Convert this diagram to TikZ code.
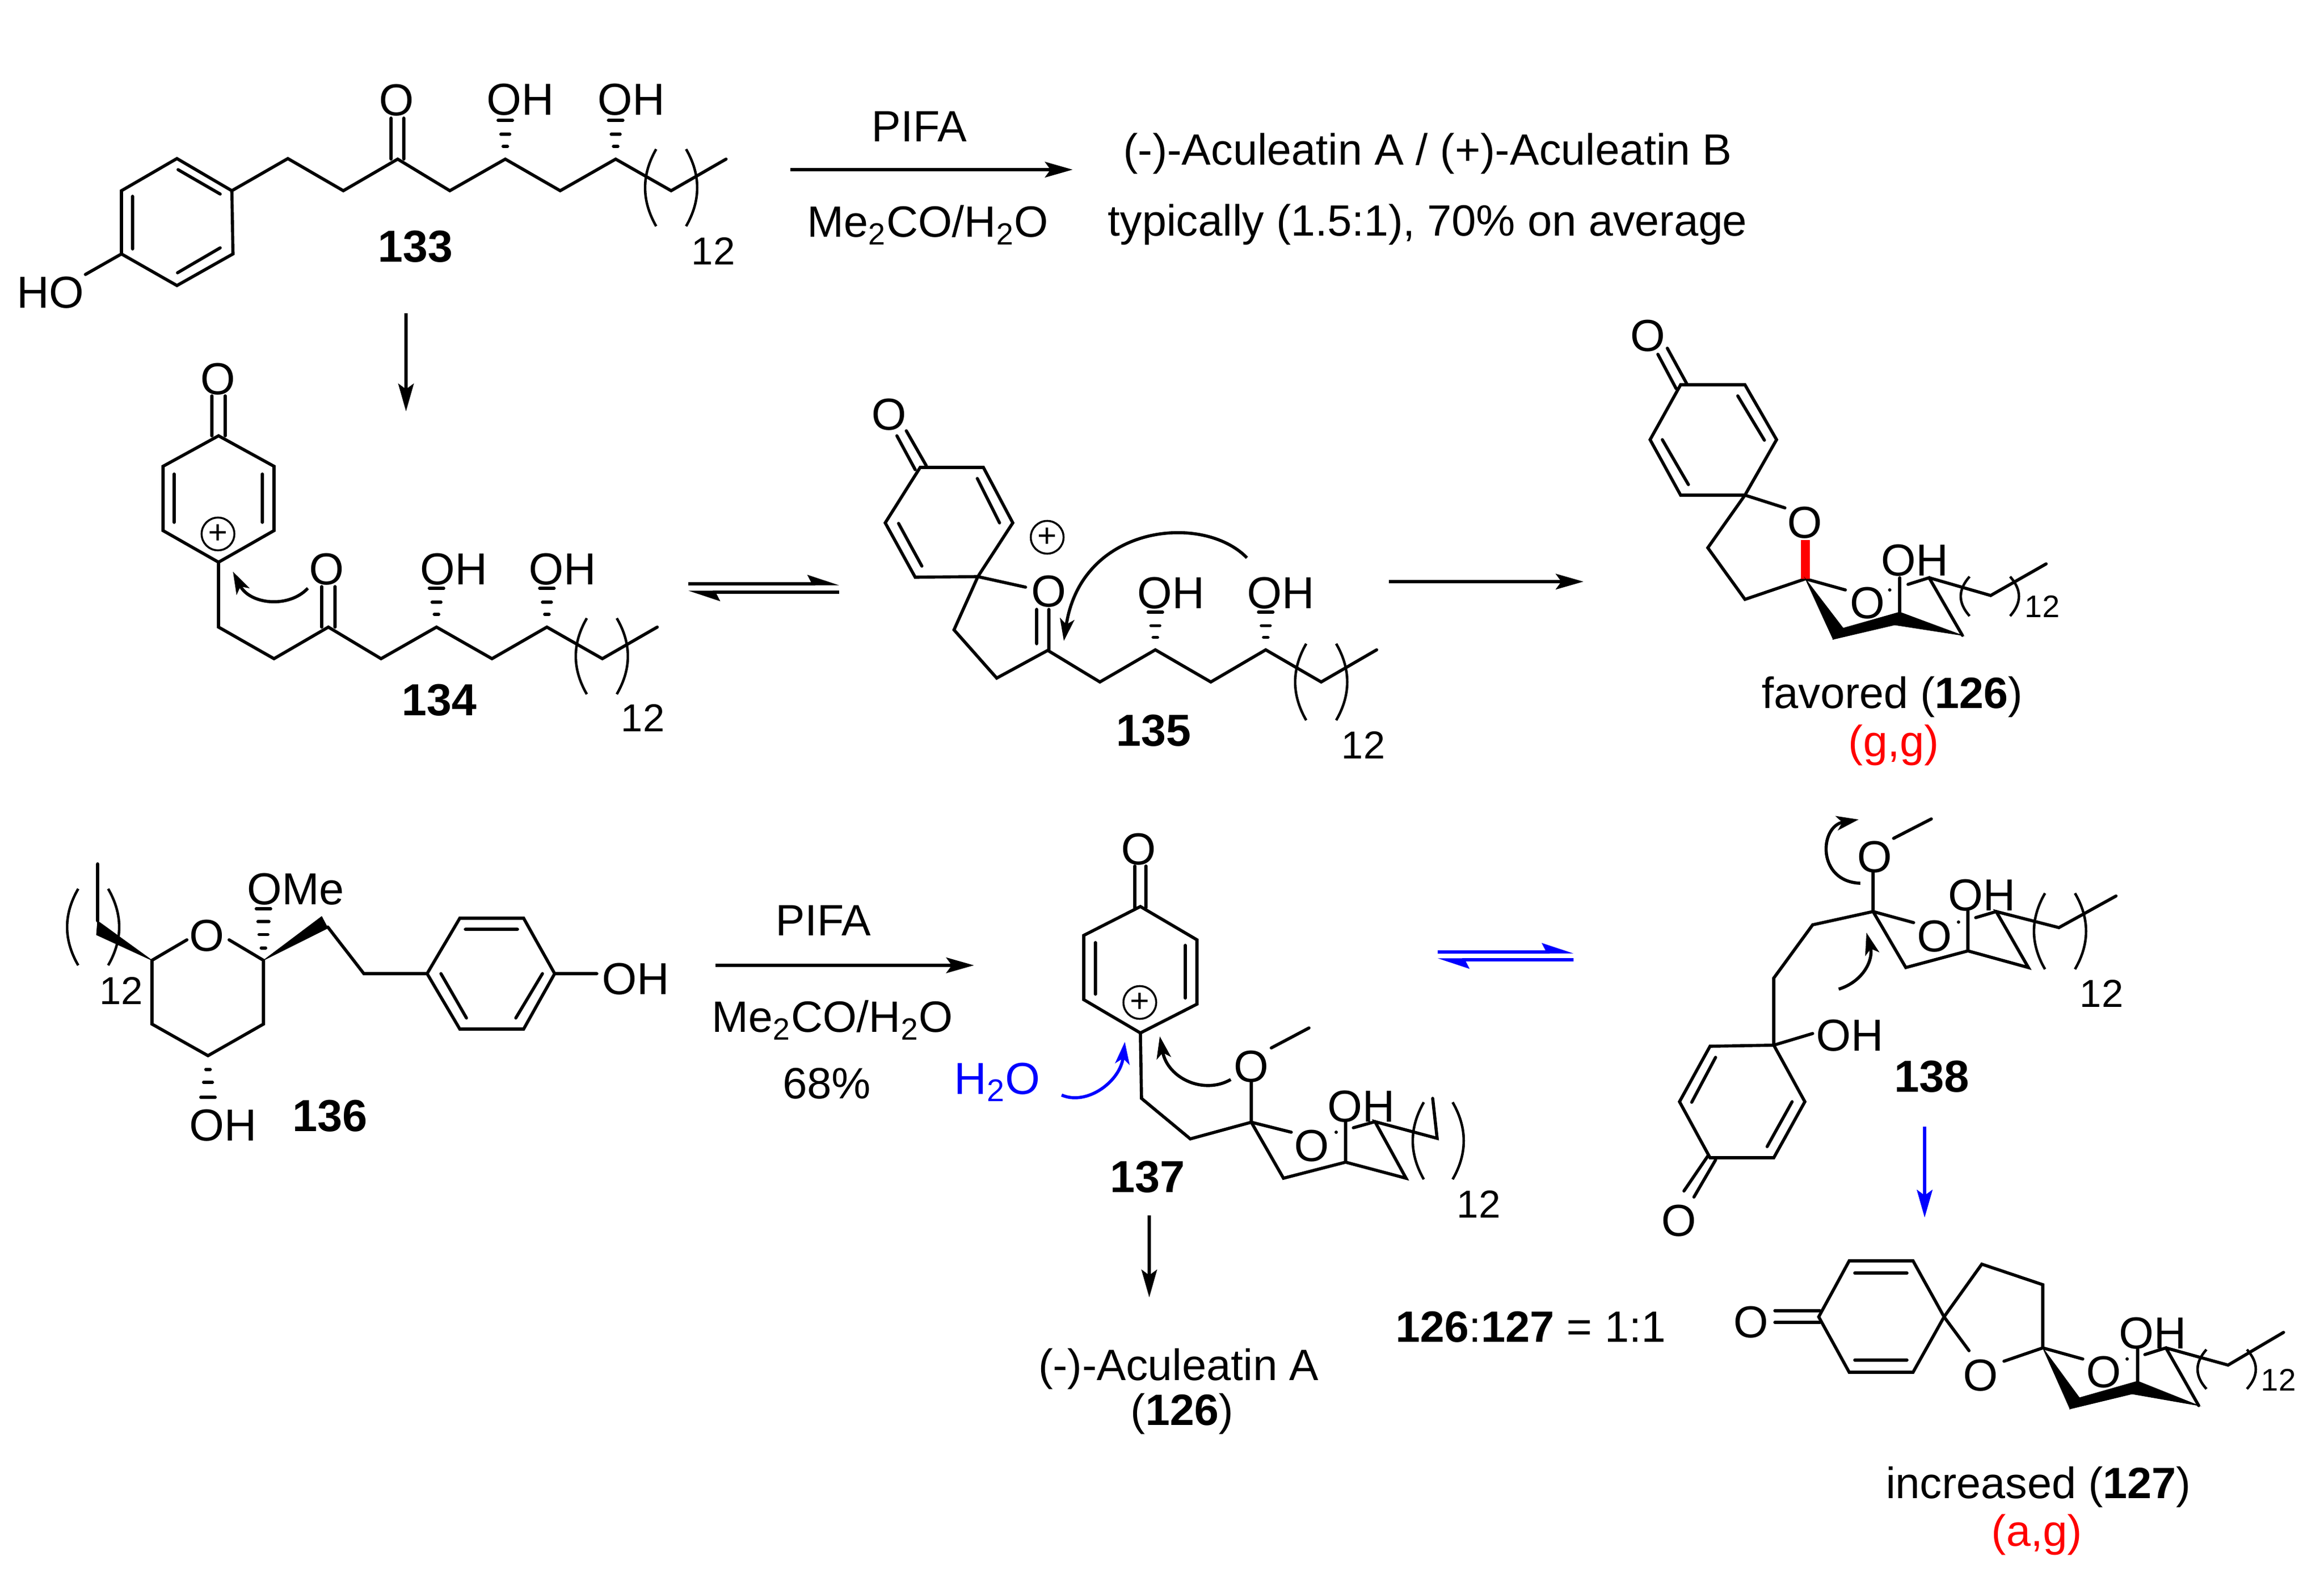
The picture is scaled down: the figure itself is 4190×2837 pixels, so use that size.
\documentclass[tikz,border=0pt]{standalone}
\usepackage{fontspec}
\setmainfont{Liberation Sans}
\usetikzlibrary{arrows.meta,calc}

\newcommand{\hashbond}[3]{\foreach \f/\w in #3 {\draw[bond] ($(#1)!\f!(#2)$) ++(-\w,0) -- ++(2*\w,0);}}
\newcommand{\parens}[5]{%
  \draw[paren] (#1,#3) .. controls ({#1-#5*1.33},{#3+(#4-#3)/3}) and ({#1-#5*1.33},{#3+2*(#4-#3)/3}) .. (#1,#4);
  \draw[paren] (#2,#3) .. controls ({#2+#5*1.33},{#3+(#4-#3)/3}) and ({#2+#5*1.33},{#3+2*(#4-#3)/3}) .. (#2,#4);}
\def\hashthree{.33/4,.64/8,1/13}
\def\hashfour{.24/4,.5/8,.75/10,1/13}

\begin{document}
\begin{tikzpicture}[x=0.01cm,y=-0.01cm,
    bond/.style={line width=1.6pt,line cap=round},
    paren/.style={line width=1.3pt},
    wedgebond/.style={fill=black,draw=black,line width=.3pt},
    atom/.style={inner sep=0pt,font=\fontsize{23}{27}\selectfont},
    count/.style={inner sep=0pt,font=\fontsize{20}{24}\selectfont},
    smallcount/.style={inner sep=0pt,font=\fontsize{16}{20}\selectfont},
    cmpd/.style={inner sep=0pt,font=\fontsize{23}{27}\selectfont\bfseries},
    plain/.style={inner sep=0pt,align=center,font=\fontsize{22.5}{27}\selectfont},
    charge/.style={circle,draw,line width=1pt,inner sep=0pt,minimum size=16.8pt,font=\fontsize{17}{17}\selectfont},
    rxn/.style={line width=1.6pt,-{Stealth[length=5mm,width=2.8mm,inset=1mm]}},
    curly/.style={line width=1.6pt,-{Stealth[length=4mm,width=2.6mm,inset=1mm]}},
    upharp/.style={line width=1.5pt,-{Stealth[harpoon,length=4.9mm,width=3.2mm,inset=.8mm]}}]
  \useasboundingbox (0,0) rectangle (4190,2837);

  % 133
  \foreach \n/\x/\y in {a1/319/286,a2/418/344,a3/420/458,a4/319/515,a5/219/458,a6/219/344,
      a7/519/286,a8/619/344,a9/717/287,a10/811/344,a11/911/287,a12/1010/344,a13/1110/287,a14/1210/344,a15/1309/287,
      a16/154/495,a17/705/213,a18/705/287,a19/728/213,a20/728/287,a21/911/217,a22/1110/217,
      a23/321/306,a24/397/350,a25/239/354,a26/239/449,a27/320/492,a28/397/447}
    \coordinate (\n) at (\x,\y);
  \draw[bond] (a1) -- (a2) -- (a3) -- (a4) -- (a5) -- (a6) -- cycle;
  \draw[bond] (a2) -- (a7) -- (a8) -- (a9) -- (a10) -- (a11) -- (a12) -- (a13) -- (a14) -- (a15);
  \draw[bond] (a5) -- (a16) (a17) -- (a18) (a19) -- (a20);
  \draw[bond] (a23) -- (a24) (a25) -- (a26) (a27) -- (a28);
  \hashbond{a11}{a21}{\hashthree}
  \hashbond{a13}{a22}{\hashthree}
  \parens{1183}{1237}{269}{408}{20}
  \node[atom] (a-ho) at (91,528) {HO};
  \node[atom] (a-o) at (715,181) {O};
  \node[atom] (a-oh1) at (938,180) {OH};
  \node[atom] (a-oh2) at (1138,180) {OH};
  \node[count] (a-n) at (1286,453) {12};
  \node[cmpd] (a-lab) at (749,445) {133};

  % top reaction
  \coordinate (r1s) at (1425,306);
  \coordinate (r1e) at (1934,306);
  \draw[rxn] (r1s) -- (r1e);
  \node[plain] (r1a) at (1657,228) {PIFA};
  \node[plain] (r1b) at (1673,406) {Me\textsubscript{2}CO/H\textsubscript{2}O};
  \node[plain] (r1c) at (2574,277) {(-)-Aculeatin A / (+)-Aculeatin B};
  \node[plain] (r1d) at (2574,405) {typically (1.5:1), 70\% on average};
  \coordinate (r2s) at (732,565);
  \coordinate (r2e) at (732,742);
  \draw[rxn] (r2s) -- (r2e);

  % 134
  \foreach \n/\x/\y in {b1/394/786,b2/494/841,b3/494/957,b4/394/1014,b5/294/957,b6/294/841,
      b7/394/1131,b8/494/1188,b9/592/1131,b10/687/1188,b11/787/1131,b12/887/1188,b13/986/1131,b14/1086/1188,b15/1185/1131,
      b16/382/714,b17/382/786,b18/406/714,b19/406/786,b20/314/855,b21/314/942,b22/473/855,b23/473/942,
      b24/580/1058,b25/580/1131,b26/604/1058,b27/604/1131,b28/787/1061,b29/986/1061,b30/555/1061,b31/420/1031}
    \coordinate (\n) at (\x,\y);
  \draw[bond] (b1) -- (b2) -- (b3) -- (b4) -- (b5) -- (b6) -- cycle;
  \draw[bond] (b4) -- (b7) -- (b8) -- (b9) -- (b10) -- (b11) -- (b12) -- (b13) -- (b14) -- (b15);
  \draw[bond] (b16) -- (b17) (b18) -- (b19) (b20) -- (b21) (b22) -- (b23) (b24) -- (b25) (b26) -- (b27);
  \hashbond{b11}{b28}{\hashthree}
  \hashbond{b13}{b29}{\hashthree}
  \parens{1058}{1112}{1115}{1252}{20}
  \draw[curly] (b30) .. controls (520,1098) and (450,1090) .. (b31);
  \node[charge] (b-p) at (393,963) {+};
  \node[atom] (b-o1) at (393,684) {O};
  \node[atom] (b-o2) at (589,1027) {O};
  \node[atom] (b-oh1) at (818,1027) {OH};
  \node[atom] (b-oh2) at (1014,1027) {OH};
  \node[count] (b-n) at (1159,1295) {12};
  \node[cmpd] (b-lab) at (792,1263) {134};

  % 134 to 135
  \coordinate (r3a) at (1241,1053);
  \coordinate (r3b) at (1513,1053);
  \coordinate (r3c) at (1513,1068);
  \coordinate (r3d) at (1241,1068);
  \draw[upharp] (r3a) -- (r3b);
  \draw[upharp] (r3c) -- (r3d);

  % 135
  \foreach \n/\x/\y in {c1/1659/843,c2/1773/843,c3/1826/943,c4/1763/1040,c5/1650/1041,c6/1596/943,
      c7/1720/1136,c8/1797/1223,c9/1889/1173,c10/1983/1230,c11/2083/1172,c12/2183/1230,c13/2282/1172,c14/2382/1230,c15/2482/1172,
      c16/1617/786,c17/1650/847,c18/1634/777,c19/1670/840,c20/1762/863,c21/1802/943,c22/1620/944,c23/1662/1021,c24/1849/1059,
      c25/1869/1099,c26/1869/1161,c27/1891/1099,c28/1891/1173,c29/2083/1104,c30/2282/1104,c31/2248/1006,c32/1918/1156}
    \coordinate (\n) at (\x,\y);
  \draw[bond] (c1) -- (c2) -- (c3) -- (c4) -- (c5) -- (c6) -- cycle;
  \draw[bond] (c4) -- (c7) -- (c8) -- (c9) -- (c10) -- (c11) -- (c12) -- (c13) -- (c14) -- (c15);
  \draw[bond] (c16) -- (c17) (c18) -- (c19) (c20) -- (c21) (c22) -- (c23) (c4) -- (c24) (c25) -- (c26) (c27) -- (c28);
  \hashbond{c11}{c29}{\hashthree}
  \hashbond{c13}{c30}{\hashthree}
  \parens{2355}{2409}{1161}{1299}{20}
  \draw[curly] (c31) .. controls (2170,925) and (1950,945) .. (c32);
  \node[charge] (c-p) at (1888,969) {+};
  \node[atom] (c-o1) at (1603,748) {O};
  \node[atom] (c-o2) at (1891,1067) {O};
  \node[atom] (c-oh1) at (2111,1070) {OH};
  \node[atom] (c-oh2) at (2309,1070) {OH};
  \node[count] (c-n) at (2458,1344) {12};
  \node[cmpd] (c-lab) at (2080,1318) {135};

  % 135 to 126
  \coordinate (r4s) at (2504,1049);
  \coordinate (r4e) at (2855,1049);
  \draw[rxn] (r4s) -- (r4e);

  % 126
  \foreach \n/\x/\y in {d1/3030/694,d2/3146/694,d3/3203/793,d4/3146/893,d5/3030/893,d6/2975/793,
      d7/3079/988,d8/3146/1081,d9/3255/1044,d10/3218/916,d11/2989/639,d12/3022/701,d13/3006/628,d14/3041/692,
      d15/3133/714,d16/3181/794,d17/2997/793,d18/3044/874,d19/3255/974,d20/3327/1064,d21/3425/1042,d22/3425/1104,
      d23/3440/1054,d24/3478/1042,d25/3538/1146,d26/3589/1074,d27/3689/1017}
    \coordinate (\n) at (\x,\y);
  \draw[bond] (d1) -- (d2) -- (d3) -- (d4) -- (d5) -- (d6) -- cycle;
  \draw[bond] (d4) -- (d7) -- (d8) -- (d9);
  \draw[bond] (d4) -- (d10) (d11) -- (d12) (d13) -- (d14) (d15) -- (d16) (d17) -- (d18) (d9) -- (d20) (d21) -- (d22);
  \draw[bond] (d23) -- (d24) -- (d25) (d24) -- (d26) -- (d27);
  \draw[red,line width=4.5pt] (d19) -- (d9);
  \fill[wedgebond] (d9) -- (3305,1153) -- (3323,1133) -- cycle;
  \fill[wedgebond] (3305,1153) -- (3323,1133) -- (d22) -- (3416,1127) -- cycle;
  \fill[wedgebond] (d22) -- (d25) -- (3416,1127) -- cycle;
  \fill (3407,1064) circle (3);
  \parens{3551}{3624}{1040}{1111}{16}
  \node[atom] (d-o1) at (2971,606) {O};
  \node[atom] (d-o2) at (3254,943) {O};
  \node[atom] (d-o3) at (3367,1088) {O};
  \node[atom] (d-oh) at (3452,1011) {OH};
  \node[smallcount] (d-n) at (3682,1094) {12};
  \node[plain] (d-lab) at (3412,1257) {favored (\textbf{126})};
  \node[plain,text=red] (d-conf) at (3414,1344) {(g,g)};

  % 136
  \foreach \n/\x/\y in {e1/274/1732,e2/475/1732,e3/475/1847,e4/375/1904,e5/274/1847,e6/337/1695,e7/413/1695,
      e8/475/1639,e9/580/1653,e10/591/1674,e11/591/1672,e12/656/1756,e13/770/1756,e14/829/1656,e15/944/1656,
      e16/1000/1756,e17/944/1856,e18/829/1856,e19/839/1676,e20/933/1676,e21/795/1756,e22/841/1836,e23/978/1756,
      e24/930/1836,e25/1076/1756,e26/375/1979,e27/176/1661,e28/174/1686,e29/176/1558}
    \coordinate (\n) at (\x,\y);
  \draw[bond] (e7) -- (e2) -- (e3) -- (e4) -- (e5) -- (e1) -- (e6);
  \draw[bond] (e11) -- (e12) -- (e13);
  \draw[bond] (e13) -- (e14) -- (e15) -- (e16) -- (e17) -- (e18) -- cycle;
  \draw[bond] (e19) -- (e20) (e21) -- (e22) (e23) -- (e24) (e16) -- (e25) (e27) -- (e29);
  \fill[wedgebond] (e2) -- (e9) -- (e10) -- cycle;
  \fill[wedgebond] (e1) -- (e27) -- (e28) -- cycle;
  \hashbond{e2}{e8}{\hashfour}
  \hashbond{e4}{e26}{\hashthree}
  \parens{141}{195}{1603}{1741}{20}
  \node[atom] (e-o) at (373,1688) {O};
  \node[atom] (e-ome) at (533,1604) {OMe};
  \node[atom] (e-oh1) at (1146,1766) {OH};
  \node[atom] (e-oh2) at (402,2030) {OH};
  \node[count] (e-n) at (219,1787) {12};
  \node[cmpd] (e-lab) at (595,2013) {136};

  % 136 to 137
  \coordinate (r5s) at (1290,1741);
  \coordinate (r5e) at (1756,1741);
  \draw[rxn] (r5s) -- (r5e);
  \node[plain] (r5a) at (1484,1660) {PIFA};
  \node[plain] (r5b) at (1501,1840) {Me\textsubscript{2}CO/H\textsubscript{2}O};
  \node[plain] (r5c) at (1491,1954) {68\%};

  % 137
  \foreach \n/\x/\y in {f1/2056/1635,f2/2158/1695,f3/2158/1811,f4/2056/1863,f5/1954/1803,f6/1954/1687,
      f7/2058/1981,f8/2146/2054,f9/2256/2024,f10/2256/1949,f11/2292/1890,f12/2360/1854,f13/2328/2042,
      f14/2314/2125,f15/2426/2096,f16/2535/2125,f17/2479/2023,f18/2426/2021,f19/2440/2034,f20/2591/2053,f21/2583/1981,
      f22/2046/1562,f23/2046/1637,f24/2066/1562,f25/2066/1637,f26/1975/1700,f27/1975/1793,f28/2137/1705,f29/2137/1800,
      f30/1914/1975,f31/2028/1879,f32/2219/1947,f33/2091/1869}
    \coordinate (\n) at (\x,\y);
  \draw[bond] (f1) -- (f2) -- (f3) -- (f4) -- (f5) -- (f6) -- cycle;
  \draw[bond] (f4) -- (f7) -- (f8) -- (f9) -- (f14) -- (f15) -- (f16) -- (f17) -- (f20) -- (f21);
  \draw[bond] (f9) -- (f10) (f11) -- (f12) (f9) -- (f13) (f18) -- (f15) (f19) -- (f17);
  \draw[bond] (f22) -- (f23) (f24) -- (f25) (f26) -- (f27) (f28) -- (f29);
  \fill (2409,2042) circle (3);
  \parens{2567}{2619}{1988}{2127}{20}
  \draw[curly,blue] (f30) .. controls (1960,1995) and (2020,1950) .. (f31);
  \draw[curly] (f32) .. controls (2170,1975) and (2105,1945) .. (f33);
  \node[charge] (f-p) at (2055,1808) {+};
  \node[atom] (f-o1) at (2053,1532) {O};
  \node[atom] (f-o2) at (2256,1924) {O};
  \node[atom] (f-o3) at (2365,2067) {O};
  \node[atom] (f-oh) at (2454,1996) {OH};
  \node[count] (f-n) at (2666,2172) {12};
  \node[cmpd] (f-lab) at (2069,2123) {137};
  \node[atom,text=blue] (f-w) at (1798,1952) {H\textsubscript{2}O};

  % 137 to 126 and to 138
  \coordinate (r6s) at (2072,2192);
  \coordinate (r6e) at (2072,2340);
  \draw[rxn] (r6s) -- (r6e);
  \node[plain] (r6a) at (2125,2469) {(-)-Aculeatin A};
  \node[plain] (r6b) at (2131,2550) {(\textbf{126})};
  \coordinate (r7a) at (2592,1717);
  \coordinate (r7b) at (2837,1717);
  \coordinate (r7c) at (2837,1731);
  \coordinate (r7d) at (2592,1731);
  \draw[upharp,blue] (r7a) -- (r7b);
  \draw[upharp,blue] (r7c) -- (r7d);
  \node[plain] (ratio) at (2760,2393) {\textbf{126}:\textbf{127} = 1:1};

  % 138
  \foreach \n/\x/\y in {g1/3198/1885,g2/3254/1987,g3/3198/2088,g4/3083/2088,g5/3028/1987,g6/3083/1887,
      g7/3198/1764,g8/3268/1668,g9/3377/1644,g10/3377/1572,g11/3414/1512,g12/3482/1477,g13/3450/1664,g14/3436/1745,
      g15/3548/1715,g16/3657/1745,g17/3599/1644,g18/3548/1643,g19/3562/1655,g20/3712/1673,g21/3815/1616,g22/3268/1864,
      g23/3093/1907,g24/3050/1988,g25/3231/1987,g26/3186/2068,g27/3079/2085,g28/3036/2148,g29/3093/2092,g30/3054/2159,
      g31/3354/1593,g32/3351/1478,g33/3315/1784,g34/3365/1682}
    \coordinate (\n) at (\x,\y);
  \draw[bond] (g1) -- (g2) -- (g3) -- (g4) -- (g5) -- (g6) -- cycle;
  \draw[bond] (g1) -- (g7) -- (g8) -- (g9) -- (g14) -- (g15) -- (g16) -- (g17) -- (g20) -- (g21);
  \draw[bond] (g9) -- (g10) (g11) -- (g12) (g9) -- (g13) (g18) -- (g15) (g19) -- (g17) (g1) -- (g22);
  \draw[bond] (g23) -- (g24) (g25) -- (g26) (g27) -- (g28) (g29) -- (g30);
  \fill (3531,1663) circle (3);
  \parens{3687}{3741}{1611}{1748}{20}
  \draw[curly] (g31) .. controls (3275,1590) and (3280,1490) .. (g32);
  \draw[curly] (g33) .. controls (3360,1770) and (3378,1730) .. (g34);
  \node[atom] (g-o1) at (3380,1546) {O};
  \node[atom] (g-o2) at (3488,1689) {O};
  \node[atom] (g-o3) at (3027,2202) {O};
  \node[atom] (g-oh1) at (3573,1615) {OH};
  \node[atom] (g-oh2) at (3335,1868) {OH};
  \node[count] (g-n) at (3789,1792) {12};
  \node[cmpd] (g-lab) at (3483,1942) {138};

  % 138 to 127
  \coordinate (r8s) at (3470,2032);
  \coordinate (r8e) at (3470,2196);
  \draw[rxn,blue] (r8s) -- (r8e);

  % 127
  \foreach \n/\x/\y in {h1/3279/2375,h2/3334/2274,h3/3449/2274,h4/3505/2375,h5/3449/2475,h6/3334/2475,
      h7/3573/2280,h8/3683/2317,h9/3683/2431,h10/3550/2436,h11/3613/2455,h12/3755/2451,h13/3854/2430,h14/3854/2491,
      h15/3867/2443,h16/3905/2431,h17/3964/2535,h18/4017/2462,h19/4117/2403,h20/3200/2364,h21/3281/2364,h22/3200/2385,
      h23/3281/2385,h24/3344/2296,h25/3438/2296,h26/3344/2453,h27/3438/2453}
    \coordinate (\n) at (\x,\y);
  \draw[bond] (h1) -- (h2) -- (h3) -- (h4) -- (h5) -- (h6) -- cycle;
  \draw[bond] (h4) -- (h7) -- (h8) -- (h9);
  \draw[bond] (h4) -- (h10) (h11) -- (h9) -- (h12) (h13) -- (h14) (h15) -- (h16) -- (h17) (h16) -- (h18) -- (h19);
  \draw[bond] (h20) -- (h21) (h22) -- (h23) (h24) -- (h25) (h26) -- (h27);
  \fill[wedgebond] (h9) -- (3732,2541) -- (3749,2521) -- cycle;
  \fill[wedgebond] (3732,2541) -- (3749,2521) -- (h14) -- (3844,2514) -- cycle;
  \fill[wedgebond] (h14) -- (h17) -- (3844,2514) -- cycle;
  \fill (3835,2451) circle (3);
  \parens{3978}{4051}{2434}{2505}{16}
  \node[atom] (h-o1) at (3157,2385) {O};
  \node[atom] (h-o2) at (3571,2481) {O};
  \node[atom] (h-o3) at (3793,2475) {O};
  \node[atom] (h-oh) at (3881,2405) {OH};
  \node[smallcount] (h-n) at (4108,2489) {12};
  \node[plain] (h-lab) at (3675,2682) {increased (\textbf{127})};
  \node[plain,text=red] (h-conf) at (3672,2768) {(a,g)};
\end{tikzpicture}
\end{document}
